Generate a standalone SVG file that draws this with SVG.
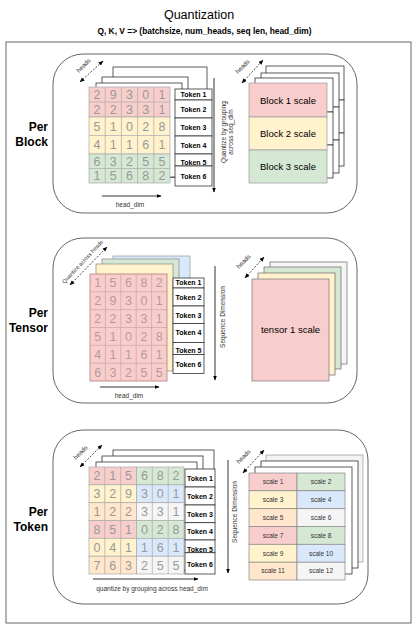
<svg xmlns="http://www.w3.org/2000/svg" width="418" height="631" viewBox="0 0 418 631">
<style>
text{font-family:"Liberation Sans",Arial,sans-serif;}
.box{fill:#fff;stroke:#666;stroke-width:1;}
.sh{fill:#fff;stroke:#333;stroke-width:0.8;}
.r{fill:#f8cecc;}.y{fill:#fff2cc;}.g{fill:#d5e8d4;}.b{fill:#dae8fc;}.o{fill:#ffe6cc;}.w{fill:#f5f5f5;}
.cell{stroke:#aaa;stroke-width:0.7;}
.grid{fill:none;stroke:#aaa;stroke-width:0.7;}
.d{font-size:12.5px;fill:#999;text-anchor:middle;}
.tk{fill:#fff;stroke:#333;stroke-width:0.8;}
.tt{font-size:7px;font-weight:bold;fill:#000;text-anchor:middle;}
.lbl{font-size:12px;font-weight:bold;fill:#000;text-anchor:end;}
.sm{font-size:6.5px;fill:#333;text-anchor:middle;}
.hd{font-size:6.3px;fill:#333;text-anchor:middle;}
.sc{font-size:9.5px;fill:#000;text-anchor:middle;}
.st{font-size:6.5px;fill:#333;text-anchor:middle;}
.ar{stroke:#000;stroke-width:0.8;fill:none;marker-end:url(#ah);}
.da{stroke:#000;stroke-width:0.7;fill:none;stroke-dasharray:2 1.5;marker-end:url(#ah);marker-start:url(#ah);}
</style>
<defs>
<marker id="ah" viewBox="0 0 10 10" refX="9" refY="5" markerUnits="userSpaceOnUse" markerWidth="5" markerHeight="5" orient="auto-start-reverse"><path d="M0,1 L10,5 L0,9 z" fill="#000"/></marker>
</defs>
<rect width="418" height="631" fill="#fff"/>
<g id="title">
<text x="199" y="18.5" font-size="12.5" text-anchor="middle" fill="#000">Quantization</text>
<text x="204.5" y="34" font-size="8.4" font-weight="bold" text-anchor="middle" fill="#000">Q, K, V =&gt; (batchsize, num_heads, seq len, head_dim)</text>
</g>
<g id="outer"><rect x="6" y="42" width="405" height="581" fill="none" stroke="#666" stroke-width="1"/></g>

<!-- PER BLOCK -->
<g id="per-block">
<rect class="box" x="53" y="54" width="304" height="159" rx="30"/>
<text class="lbl" x="48" y="131">Per</text>
<text class="lbl" x="48" y="146">Block</text>
</g>
<g id="block-tensor">
<rect class="sh" x="113" y="67" width="94" height="110"/>
<rect class="sh" x="102" y="77" width="86" height="100"/>
<rect class="sh" x="96" y="83" width="86" height="94"/>
<rect class="r cell" x="89" y="87" width="81" height="30"/>
<rect class="y cell" x="89" y="117" width="81" height="37"/>
<rect class="g cell" x="89" y="154" width="81" height="29"/>
<path class="grid" d="M105.2,87V183M121.4,87V183M137.6,87V183M153.8,87V183M89,102H170M89,135.5H170M89,168.5H170"/>
<g class="d">
<text x="97.1" y="99">2</text><text x="113.3" y="99">9</text><text x="129.5" y="99">3</text><text x="145.7" y="99">0</text><text x="161.9" y="99">1</text>
<text x="97.1" y="114">2</text><text x="113.3" y="114">2</text><text x="129.5" y="114">3</text><text x="145.7" y="114">3</text><text x="161.9" y="114">1</text>
<text x="97.1" y="130.7">5</text><text x="113.3" y="130.7">1</text><text x="129.5" y="130.7">0</text><text x="145.7" y="130.7">2</text><text x="161.9" y="130.7">8</text>
<text x="97.1" y="149.2">4</text><text x="113.3" y="149.2">1</text><text x="129.5" y="149.2">1</text><text x="145.7" y="149.2">6</text><text x="161.9" y="149.2">1</text>
<text x="97.1" y="165.7">6</text><text x="113.3" y="165.7">3</text><text x="129.5" y="165.7">2</text><text x="145.7" y="165.7">5</text><text x="161.9" y="165.7">5</text>
<text x="97.1" y="180.2">1</text><text x="113.3" y="180.2">5</text><text x="129.5" y="180.2">6</text><text x="145.7" y="180.2">8</text><text x="161.9" y="180.2">2</text>
</g>
</g>
<g id="block-tokens">
<rect class="tk" x="175" y="89" width="37" height="11"/>
<rect class="tk" x="175" y="100" width="37" height="18"/>
<rect class="tk" x="175" y="118" width="37" height="18"/>
<rect class="tk" x="175" y="136" width="37" height="18"/>
<rect class="tk" x="175" y="154" width="37" height="12"/>
<rect class="tk" x="175" y="166" width="37" height="20"/>
<text class="tt" x="193.5" y="97">Token 1</text>
<text class="tt" x="193.5" y="112">Token 2</text>
<text class="tt" x="193.5" y="129.7">Token 3</text>
<text class="tt" x="193.5" y="147.5">Token 4</text>
<text class="tt" x="193.5" y="164.5">Token 5</text>
<text class="tt" x="193.5" y="179">Token 6</text>
</g>
<g id="block-scales">
<rect class="sh" x="266" y="66" width="78" height="34"/><rect class="sh" x="266" y="100" width="78" height="33"/><rect class="sh" x="266" y="133" width="78" height="33"/>
<rect class="sh" x="261" y="73" width="78" height="34"/><rect class="sh" x="261" y="107" width="78" height="33"/><rect class="sh" x="261" y="140" width="78" height="33"/>
<rect class="sh" x="255" y="78" width="78" height="34"/><rect class="sh" x="255" y="112" width="78" height="33"/><rect class="sh" x="255" y="145" width="78" height="33"/>
<rect x="249" y="83" width="78" height="34" class="r" stroke="#999" stroke-width="0.7"/>
<rect x="249" y="117" width="78" height="33" class="y" stroke="#999" stroke-width="0.7"/>
<rect x="249" y="150" width="78" height="33" class="g" stroke="#999" stroke-width="0.7"/>
<text class="sc" x="288" y="103.5">Block 1 scale</text>
<text class="sc" x="288" y="137">Block 2 scale</text>
<text class="sc" x="288" y="170">Block 3 scale</text>
</g>

<!-- PER TENSOR -->
<g id="per-tensor">
<rect class="box" x="53" y="238" width="304" height="165" rx="30"/>
<text class="lbl" x="48" y="317">Per</text>
<text class="lbl" x="48" y="332">Tensor</text>
</g>
<g id="tensor-tensor">
<rect x="113" y="256" width="77" height="107" class="b" stroke="#999" stroke-width="0.7"/>
<rect x="102" y="259" width="77" height="107" class="g" stroke="#888" stroke-width="0.7"/>
<rect x="96" y="264" width="77" height="107" class="y" stroke="#888" stroke-width="0.7"/>
<rect x="90" y="274" width="77" height="107" class="r" stroke="#b88" stroke-width="0.9"/>
<path class="grid" d="M105.4,274V381M120.8,274V381M136.2,274V381M151.6,274V381M90,291.8H167M90,309.7H167M90,327.5H167M90,345.3H167M90,363.2H167" style="stroke:#c9a5a5"/>
<g class="d" style="fill:#b89a9a">
<text x="97.7" y="287.4">1</text><text x="113.1" y="287.4">5</text><text x="128.5" y="287.4">6</text><text x="143.9" y="287.4">8</text><text x="159.3" y="287.4">2</text>
<text x="97.7" y="305.3">2</text><text x="113.1" y="305.3">9</text><text x="128.5" y="305.3">3</text><text x="143.9" y="305.3">0</text><text x="159.3" y="305.3">1</text>
<text x="97.7" y="323.1">2</text><text x="113.1" y="323.1">2</text><text x="128.5" y="323.1">3</text><text x="143.9" y="323.1">3</text><text x="159.3" y="323.1">1</text>
<text x="97.7" y="340.9">5</text><text x="113.1" y="340.9">1</text><text x="128.5" y="340.9">0</text><text x="143.9" y="340.9">2</text><text x="159.3" y="340.9">8</text>
<text x="97.7" y="358.8">4</text><text x="113.1" y="358.8">1</text><text x="128.5" y="358.8">1</text><text x="143.9" y="358.8">6</text><text x="159.3" y="358.8">1</text>
<text x="97.7" y="376.6">6</text><text x="113.1" y="376.6">3</text><text x="128.5" y="376.6">2</text><text x="143.9" y="376.6">5</text><text x="159.3" y="376.6">5</text>
</g>
</g>
<g id="tensor-tokens">
<rect class="tk" x="173" y="278" width="31" height="10"/>
<rect class="tk" x="173" y="288" width="31" height="18"/>
<rect class="tk" x="173" y="306" width="31" height="17.5"/>
<rect class="tk" x="173" y="323.5" width="31" height="19"/>
<rect class="tk" x="173" y="342.5" width="31" height="12"/>
<rect class="tk" x="173" y="354.5" width="31" height="19"/>
<text class="tt" x="188.5" y="285.3">Token 1</text>
<text class="tt" x="188.5" y="299.5">Token 2</text>
<text class="tt" x="188.5" y="317.5">Token 3</text>
<text class="tt" x="188.5" y="335.2">Token 4</text>
<text class="tt" x="188.5" y="353.2">Token 5</text>
<text class="tt" x="188.5" y="366.5">Token 6</text>
</g>
<g id="tensor-scale">
<rect x="270" y="262" width="77" height="102" fill="#f5f5f5" stroke="#666" stroke-width="0.7"/>
<rect x="264" y="267" width="77" height="102" class="g" stroke="#666" stroke-width="0.7"/>
<rect x="258" y="273" width="77" height="102" class="y" stroke="#666" stroke-width="0.7"/>
<rect x="252" y="279" width="77" height="102" class="r" stroke="#777" stroke-width="0.7"/>
<text class="sc" x="290.5" y="333">tensor 1 scale</text>
</g>

<!-- PER TOKEN -->
<g id="per-token">
<rect class="box" x="53" y="430" width="315" height="174" rx="30"/>
<text class="lbl" x="48" y="516">Per</text>
<text class="lbl" x="48" y="531">Token</text>
</g>
<g id="token-tensor">
<rect class="sh" x="113" y="450" width="101" height="120"/>
<rect class="sh" x="102" y="456" width="101" height="114"/>
<rect class="sh" x="96" y="462" width="101" height="108"/>
<rect class="r cell" x="89" y="467" width="47.5" height="17.8"/><rect class="g cell" x="136.5" y="467" width="47.5" height="17.8"/>
<rect class="y cell" x="89" y="484.8" width="47.5" height="17.9"/><rect class="b cell" x="136.5" y="484.8" width="47.5" height="17.9"/>
<rect class="o cell" x="89" y="502.7" width="47.5" height="17.8"/><rect class="w cell" x="136.5" y="502.7" width="47.5" height="17.8"/>
<rect class="r cell" x="89" y="520.5" width="47.5" height="17.8"/><rect class="g cell" x="136.5" y="520.5" width="47.5" height="17.8"/>
<rect class="y cell" x="89" y="538.3" width="47.5" height="17.9"/><rect class="b cell" x="136.5" y="538.3" width="47.5" height="17.9"/>
<rect class="o cell" x="89" y="556.2" width="47.5" height="17.8"/><rect class="w cell" x="136.5" y="556.2" width="47.5" height="17.8"/>
<path class="grid" d="M104.8,467V574M120.7,467V574M152.3,467V574M168.2,467V574"/>
<g class="d">
<text x="96.9" y="480.4">2</text><text x="112.8" y="480.4">1</text><text x="128.6" y="480.4">5</text><text x="144.4" y="480.4">6</text><text x="160.3" y="480.4">8</text><text x="176.1" y="480.4">2</text>
<text x="96.9" y="498.3">3</text><text x="112.8" y="498.3">2</text><text x="128.6" y="498.3">9</text><text x="144.4" y="498.3">3</text><text x="160.3" y="498.3">0</text><text x="176.1" y="498.3">1</text>
<text x="96.9" y="516.1">1</text><text x="112.8" y="516.1">2</text><text x="128.6" y="516.1">2</text><text x="144.4" y="516.1">3</text><text x="160.3" y="516.1">3</text><text x="176.1" y="516.1">1</text>
<text x="96.9" y="533.9">8</text><text x="112.8" y="533.9">5</text><text x="128.6" y="533.9">1</text><text x="144.4" y="533.9">0</text><text x="160.3" y="533.9">2</text><text x="176.1" y="533.9">8</text>
<text x="96.9" y="551.8">0</text><text x="112.8" y="551.8">4</text><text x="128.6" y="551.8">1</text><text x="144.4" y="551.8">1</text><text x="160.3" y="551.8">6</text><text x="176.1" y="551.8">1</text>
<text x="96.9" y="569.6">7</text><text x="112.8" y="569.6">6</text><text x="128.6" y="569.6">3</text><text x="144.4" y="569.6">2</text><text x="160.3" y="569.6">5</text><text x="176.1" y="569.6">5</text>
</g>
</g>
<g id="token-tokens">
<rect class="tk" x="185" y="469" width="30" height="18"/>
<rect class="tk" x="185" y="487" width="30" height="18"/>
<rect class="tk" x="185" y="505" width="30" height="17.7"/>
<rect class="tk" x="185" y="522.7" width="30" height="17.3"/>
<rect class="tk" x="185" y="540" width="30" height="12.7"/>
<rect class="tk" x="185" y="552.7" width="30" height="21.3"/>
<text class="tt" x="200" y="480.8">Token 1</text>
<text class="tt" x="200" y="498.5">Token 2</text>
<text class="tt" x="200" y="516.5">Token 3</text>
<text class="tt" x="200" y="534.2">Token 4</text>
<text class="tt" x="200" y="551.5">Token 5</text>
<text class="tt" x="200" y="566.5">Token 6</text>
</g>
<g id="token-scales">
<rect x="266" y="455" width="97" height="107" fill="#f2f2f2" stroke="#999" stroke-width="0.7"/>
<rect class="sh" x="261" y="461" width="97" height="107"/>
<rect class="sh" x="255" y="467" width="97" height="107"/>
<g stroke="#888" stroke-width="0.7">
<rect class="r" x="249" y="473" width="48" height="17.8"/><rect class="g" x="297" y="473" width="48" height="17.8"/>
<rect class="y" x="249" y="490.8" width="48" height="17.9"/><rect class="b" x="297" y="490.8" width="48" height="17.9"/>
<rect class="o" x="249" y="508.7" width="48" height="17.8"/><rect class="w" x="297" y="508.7" width="48" height="17.8"/>
<rect class="r" x="249" y="526.5" width="48" height="17.8"/><rect class="g" x="297" y="526.5" width="48" height="17.8"/>
<rect class="y" x="249" y="544.3" width="48" height="17.9"/><rect class="b" x="297" y="544.3" width="48" height="17.9"/>
<rect class="o" x="249" y="562.2" width="48" height="17.8"/><rect class="w" x="297" y="562.2" width="48" height="17.8"/>
</g>
<g class="st">
<text x="273" y="484.2">scale 1</text><text x="321" y="484.2">scale 2</text>
<text x="273" y="502">scale 3</text><text x="321" y="502">scale 4</text>
<text x="273" y="519.9">scale 5</text><text x="321" y="519.9">scale 6</text>
<text x="273" y="537.7">scale 7</text><text x="321" y="537.7">scale 8</text>
<text x="273" y="555.5">scale 9</text><text x="321" y="555.5">scale 10</text>
<text x="273" y="573.4">scale 11</text><text x="321" y="573.4">scale 12</text>
</g>
</g>

<g id="connectors">
<!-- Per Block -->
<path class="da" d="M80,82 L103,61"/>
<text class="hd" transform="translate(85,67) rotate(-45)">heads</text>
<path class="ar" d="M214,78 V192"/>
<text class="sm" transform="translate(227,132) rotate(-90)"><tspan x="0" y="-1.5">Quantize by grouping</tspan><tspan x="0" y="6">across seq_dim</tspan></text>
<path class="ar" d="M102,196 H161"/>
<text class="sm" x="130" y="207">head_dim</text>
<path class="da" d="M242,83 L263,60"/>
<text class="hd" transform="translate(244,68) rotate(-45)">heads</text>
<!-- Per Tensor -->
<path class="da" d="M70,285 L107,247"/>
<text class="hd" style="font-size:5.6px" transform="translate(84,263) rotate(-47)">Quantize across heads</text>
<path class="ar" d="M215,266 V380"/>
<text class="sm" transform="translate(224.5,317) rotate(-90)">Sequence Dimension</text>
<path class="ar" d="M100,387 H159"/>
<text class="sm" x="129" y="398">head_dim</text>
<path class="da" d="M245,278 L264,257"/>
<text class="hd" transform="translate(245,263) rotate(-45)">heads</text>
<!-- Per Token -->
<path class="da" d="M80,467 L102,445"/>
<text class="hd" transform="translate(82,454) rotate(-45)">heads</text>
<path class="ar" d="M228,460 V573"/>
<text class="sm" transform="translate(236.5,512) rotate(-90)">Sequence Dimension</text>
<path class="ar" d="M93,579 H198"/>
<text class="sm" x="152" y="591">quantize by grouping across head_dim</text>
<path class="da" d="M243,473 L264,450"/>
<text class="hd" transform="translate(245,458) rotate(-45)">heads</text>
</g>
</svg>
